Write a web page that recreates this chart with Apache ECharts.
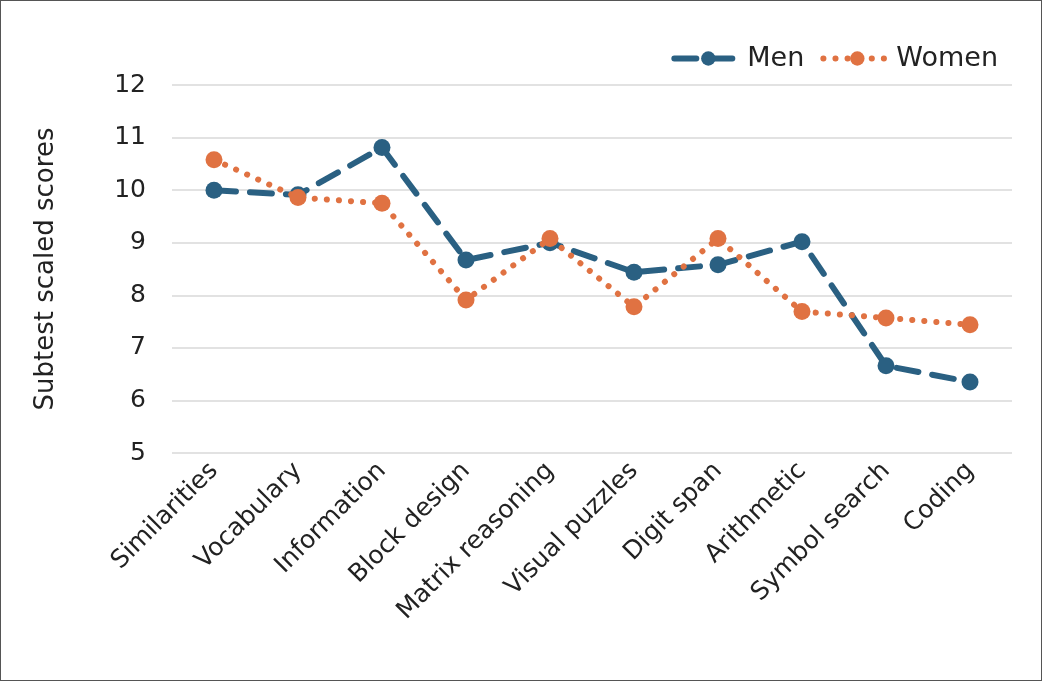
<!DOCTYPE html>
<html>
<head>
<meta charset="utf-8">
<script src="https://cdn.jsdelivr.net/npm/echarts@6/dist/echarts.min.js"></script>
<style>
html,body{margin:0;padding:0;background:#fff;}
#frame{position:absolute;left:0;top:0;width:1040px;height:679px;border:1px solid #555;}
#chart{width:1040px;height:679px;}
</style>
</head>
<body>
<div id="frame"><div id="chart"></div></div>
<script>
var categories = ['Similarities','Vocabulary','Information','Block design','Matrix reasoning','Visual puzzles','Digit span','Arithmetic','Symbol search','Coding'];
var men = [10.0, 9.91, 10.81, 8.67, 9.0, 8.44, 8.58, 9.02, 6.66, 6.35];
var women = [10.58, 9.86, 9.75, 7.91, 9.08, 7.78, 9.08, 7.69, 7.57, 7.44];
var yTicks = [5, 6, 7, 8, 9, 10, 11, 12];

var FONT = '"DejaVu Sans", sans-serif';
var chart = echarts.init(document.getElementById('chart'));
chart.setOption({
  animation: false,
  textStyle: {fontFamily: FONT},
  legend: {
    right: 38, top: 39,
    itemWidth: 68, itemHeight: 18, itemGap: 16,
    textStyle: {fontSize: 27, color: '#222', fontFamily: FONT},
    lineStyle: {width: 6},
    data: ['Men', 'Women']
  },
  grid: {left: 171, right: 29, top: 84, bottom: 227},
  xAxis: {
    type: 'category',
    data: categories,
    boundaryGap: true,
    axisLine: {show: false},
    axisTick: {show: false},
    axisLabel: {rotate: 45, fontSize: 25, color: '#222', margin: 14, interval: 0, fontFamily: FONT}
  },
  yAxis: {
    type: 'value',
    min: yTicks[0], max: yTicks[yTicks.length - 1], interval: 1,
    name: 'Subtest scaled scores',
    nameLocation: 'middle',
    nameGap: 113,
    nameTextStyle: {fontSize: 26, color: '#222', fontFamily: FONT},
    axisLine: {show: false},
    axisTick: {show: false},
    axisLabel: {fontSize: 25, color: '#222', margin: 26, fontFamily: FONT},
    splitLine: {lineStyle: {color: '#d9d9d9', width: 1.5}}
  },
  series: [
    {
      name: 'Men', type: 'line', data: men,
      symbol: 'circle', symbolSize: 17,
      itemStyle: {color: '#2a6082'},
      lineStyle: {color: '#2a6082', width: 6, type: [22, 14], cap: 'round'},
      z: 3
    },
    {
      name: 'Women', type: 'line', data: women,
      symbol: 'circle', symbolSize: 17,
      itemStyle: {color: '#e07242'},
      lineStyle: {color: '#e07242', width: 6, type: [0.1, 12], cap: 'round'},
      z: 4
    }
  ]
});
</script>
</body>
</html>
